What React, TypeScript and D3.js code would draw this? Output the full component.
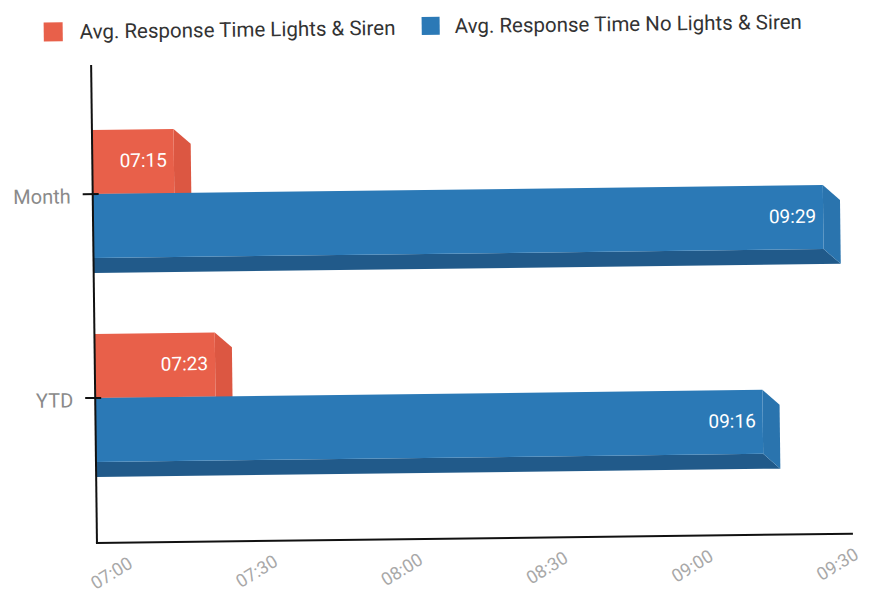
import React from "react";
import * as d3 from "d3";

const categories = ["Month", "YTD"];
const lightsSiren = ["07:15", "07:23"];
const noLightsSiren = ["09:29", "09:16"];
const xTicks = ["07:00", "07:30", "08:00", "08:30", "09:00", "09:30"];
const seriesNames = ["Avg. Response Time Lights & Siren", "Avg. Response Time No Lights & Siren"];

const W = 877;
const H = 597;
const FONT = "Roboto, 'Noto Sans', sans-serif";

// "hh:mm" clock strings as minutes
const toMin = (s: string) => {
  const [a, b] = s.split(":").map(Number);
  return a * 60 + b;
};

const RED = { front: "#e8604a", side: "#dc5742", bottom: "#b84838" };
const BLUE = { front: "#2b79b6", side: "#2a74ae", bottom: "#215a8a" };

const axisX = 94;
const axisTop = 65;
const axisBottom = 543;
const axisRight = 850;
const barH = 64;
const depthX = 17;
const depthY = 15;

const x = d3.scaleLinear().domain([toMin(xTicks[0]), toMin(xTicks[xTicks.length - 1])]).range([103, 829]);
const y = d3.scalePoint<string>().domain(categories).range([194, 398]);

function Bar3D({ top, value, color, label }: { top: number; value: string; color: typeof RED; label: string }) {
  const xe = x(toMin(value));
  const bot = top + barH;
  const front = `M${axisX},${top}H${xe}V${bot}H${axisX}Z`;
  const side = `M${xe},${top}L${xe + depthX},${top + depthY}V${bot + depthY}L${xe},${bot}Z`;
  const bottom = `M${axisX},${bot}H${xe}L${xe + depthX},${bot + depthY}H${axisX}Z`;
  return (
    <g>
      <path d={bottom} fill={color.bottom} />
      <path d={side} fill={color.side} />
      <path d={front} fill={color.front} />
      <text
        x={xe - 7}
        y={top + barH / 2 - 1}
        textAnchor="end"
        dominantBaseline="central"
        fill="#ffffff"
        fontSize={19}
        fontFamily={FONT}
      >
        {label}
      </text>
    </g>
  );
}

export default function App() {
  return (
    <svg width={W} height={H} style={{ position: "absolute", left: 0, top: 0, background: "#fff" }}>
      <rect width={W} height={H} fill="#fff" />
      <g transform={`rotate(-0.7, ${axisX}, 300)`}>
        {/* legend */}
        <rect x={47} y={22} width={19} height={19} fill={RED.front} />
        <text x={83} y={31.5} dominantBaseline="central" fontSize={20.5} fill="#333" fontFamily={FONT}>
          {seriesNames[0]}
        </text>
        <rect x={425} y={21} width={18} height={18} fill={BLUE.front} />
        <text x={458} y={30.5} dominantBaseline="central" fontSize={20.5} fill="#333" fontFamily={FONT}>
          {seriesNames[1]}
        </text>

        {/* bars: lights & siren sits above the category line, no lights & siren below */}
        {categories.map((c, i) => (
          <g key={c}>
            <Bar3D top={y(c)! - barH} value={lightsSiren[i]} color={RED} label={lightsSiren[i]} />
            <Bar3D top={y(c)!} value={noLightsSiren[i]} color={BLUE} label={noLightsSiren[i]} />
          </g>
        ))}

        {/* axes */}
        <line x1={axisX} y1={axisTop} x2={axisX} y2={axisBottom} stroke="#111" strokeWidth={2} />
        <line x1={axisX - 1} y1={axisBottom} x2={axisRight} y2={axisBottom} stroke="#111" strokeWidth={2} />
        {categories.map((c) => (
          <g key={c}>
            <line x1={axisX - 10} x2={axisX + 6} y1={y(c)} y2={y(c)} stroke="#111" strokeWidth={2} />
            <text
              x={72}
              y={y(c)! + 2}
              textAnchor="end"
              dominantBaseline="central"
              fontSize={20}
              fill="#8a8a8a"
              fontFamily={FONT}
            >
              {c}
            </text>
          </g>
        ))}
        {xTicks.map((t) => {
          const tx = x(toMin(t)) + 5;
          const ty = 573;
          return (
            <text
              key={t}
              x={tx}
              y={ty}
              textAnchor="middle"
              dominantBaseline="central"
              transform={`rotate(-31, ${tx}, ${ty})`}
              fontSize={18}
              fill="#a8a8a8"
              fontFamily={FONT}
            >
              {t}
            </text>
          );
        })}
      </g>
    </svg>
  );
}
